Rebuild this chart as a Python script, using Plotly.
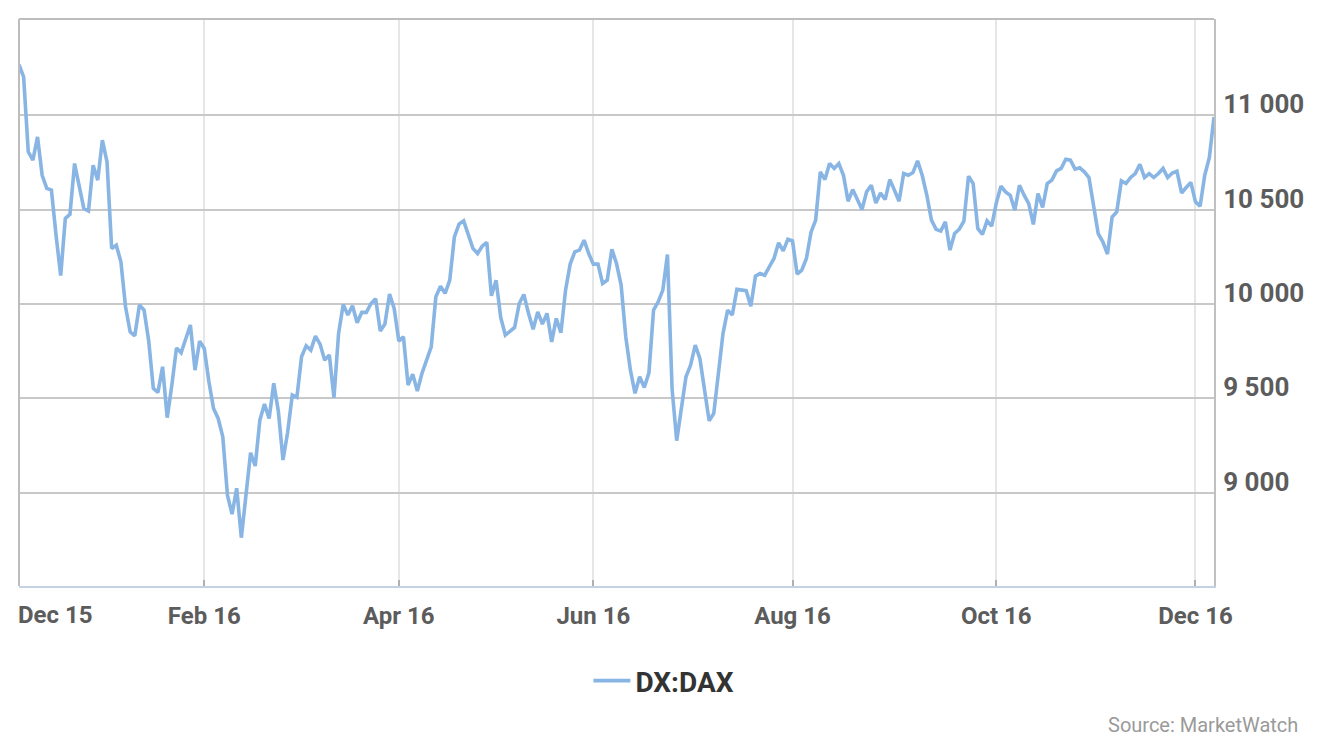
import pandas as pd
import plotly.graph_objects as go

# ---- data -------------------------------------------------------------
series_name = "DX:DAX"
source_text = "Source: MarketWatch"

# trading days shown (Xetra business days, holidays / missing days removed)
closed_days = ["2015-12-24", "2015-12-25", "2015-12-31", "2016-01-01",
               "2016-03-25", "2016-03-28", "2016-05-16", "2016-10-03"]
dates = [d.strftime("%Y-%m-%d") for d in pd.bdate_range("2015-12-01", "2016-12-07")
         if d.strftime("%Y-%m-%d") not in closed_days]

dax_close = [
    11268, 11203, 10806, 10762, 10885, 10682, 10612, 10603, 10364, 10150,
    10453, 10474, 10744, 10620, 10506, 10493, 10735, 10656, 10868, 10753,
    10294, 10311, 10223, 9985, 9852, 9831, 9994, 9967, 9805, 9552,
    9531, 9667, 9397, 9570, 9767, 9741, 9815, 9888, 9649, 9803,
    9764, 9587, 9446, 9393, 9296, 8987, 8886, 9023, 8761, 8975,
    9211, 9141, 9384, 9469, 9393, 9579, 9430, 9173, 9320, 9517,
    9505, 9720, 9778, 9755, 9829, 9787, 9702, 9729, 9503, 9844,
    9997, 9941, 9990, 9900, 9955, 9955, 10002, 10027, 9856, 9893,
    10052, 9976, 9803, 9826, 9570, 9628, 9538, 9632, 9702, 9773,
    10038, 10094, 10056, 10126, 10355, 10423, 10440, 10373, 10294, 10267,
    10306, 10326, 10043, 10126, 9928, 9835, 9857, 9875, 10002, 10050,
    9950, 9866, 9958, 9893, 9950, 9799, 9923, 9847, 10073, 10211,
    10276, 10285, 10338, 10267, 10211, 10211, 10108, 10126, 10290, 10214,
    10100, 9826, 9649, 9526, 9614, 9557, 9635, 9967, 10011, 10073,
    10262, 9550, 9275, 9455, 9614, 9676, 9782, 9711, 9543, 9381,
    9420, 9649, 9844, 9967, 9941, 10077, 10073, 10070, 9988, 10147,
    10161, 10152, 10197, 10241, 10324, 10281, 10343, 10334, 10158, 10179,
    10241, 10380, 10444, 10700, 10659, 10744, 10718, 10744, 10682, 10544,
    10606, 10553, 10500, 10594, 10629, 10535, 10588, 10553, 10659, 10603,
    10544, 10691, 10682, 10696, 10758, 10682, 10576, 10444, 10395, 10386,
    10435, 10285, 10373, 10396, 10439, 10677, 10638, 10400, 10368, 10440,
    10412, 10535, 10624, 10594, 10576, 10497, 10629, 10576, 10532, 10421,
    10585, 10511, 10638, 10656, 10705, 10718, 10767, 10762, 10714, 10721,
    10700, 10670, 10532, 10373, 10329, 10264, 10461, 10488, 10652, 10638,
    10670, 10691, 10740, 10670, 10691, 10670, 10691, 10718, 10670, 10694,
    10703, 10588, 10617, 10644, 10541, 10518, 10682, 10776, 10991,
]

x_tick_dates = ["2015-12-01", "2016-02-01", "2016-04-01", "2016-06-01",
                "2016-08-01", "2016-09-30", "2016-12-01"]
x_tick_labels = ["Dec 15", "Feb 16", "Apr 16", "Jun 16", "Aug 16", "Oct 16", "Dec 16"]
y_ticks = [9000, 9500, 10000, 10500, 11000]

# ---- figure -----------------------------------------------------------
n = min(len(dates), len(dax_close))
dates = dates[:n]
dax_close = dax_close[:n]

x_tick_font = dict(family="Roboto", size=24, color="#5c5c5c", weight="bold")
y_tick_font = dict(family="Roboto", size=26, color="#5c5c5c", weight="bold")

fig = go.Figure()
fig.add_trace(go.Scatter(
    x=dates, y=dax_close, mode="lines", name=series_name,
    line=dict(color="#88b5e3", width=3.6),
))

fig.update_layout(
    width=1320, height=742,
    margin=dict(l=19, r=106, t=19, b=156, autoexpand=False),
    paper_bgcolor="white", plot_bgcolor="white",
    separators=". ",
    showlegend=True,
    legend=dict(orientation="h", x=0.4765, xanchor="left", y=-0.1675, yanchor="middle",
                itemwidth=37,
                font=dict(family="Roboto", size=28, color="#333333", weight="bold"),
                bgcolor="rgba(0,0,0,0)"),
    xaxis=dict(
        type="category", range=[0, n - 1],
        tickmode="array", tickvals=x_tick_dates,
        ticktext=[""] + x_tick_labels[1:],
        showgrid=True, gridcolor="#e6e6e6", gridwidth=2,
        showline=True, linecolor="#c5d2e3", linewidth=2,
        ticks="inside", ticklen=6, tickcolor="#b0b0b0", tickwidth=2,
        tickfont=x_tick_font, ticklabelstandoff=7,
        zeroline=False, fixedrange=True,
    ),
    yaxis=dict(
        side="right", range=[8505, 11510],
        tickmode="array", tickvals=y_ticks, tickformat=",",
        showgrid=True, gridcolor="#c8c8c8", gridwidth=2,
        showline=True, linecolor="#c0c0c0", linewidth=2,
        ticks="", tickfont=y_tick_font, ticklabelstandoff=2, ticklabelshift=-11,
        zeroline=False, fixedrange=True,
    ),
    shapes=[
        dict(type="line", xref="paper", yref="paper", x0=0, x1=1, y0=1, y1=1,
             line=dict(color="#bdbdbd", width=2)),
        dict(type="line", xref="paper", yref="paper", x0=0, x1=0, y0=0, y1=1,
             line=dict(color="#bdbdbd", width=2)),
    ],
    annotations=[
        dict(text=x_tick_labels[0], x=dates[0], xref="x", xanchor="left", xshift=-3,
             y=-0.052, yref="paper", yanchor="middle", showarrow=False,
             font=x_tick_font),
        dict(text=source_text, xref="paper", x=1.072, xanchor="right",
             yref="paper", y=-0.245, yanchor="middle", showarrow=False,
             font=dict(family="Roboto", size=20, color="#9a9a9a")),
    ],
)

fig.write_html("out.html", config={"displayModeBar": False})
with open("out.html", "r", encoding="utf-8") as f:
    html = f.read()
html = html.replace("<head>", "<head><style>html,body{margin:0;padding:0;overflow:hidden}</style>", 1)
with open("out.html", "w", encoding="utf-8") as f:
    f.write(html)
